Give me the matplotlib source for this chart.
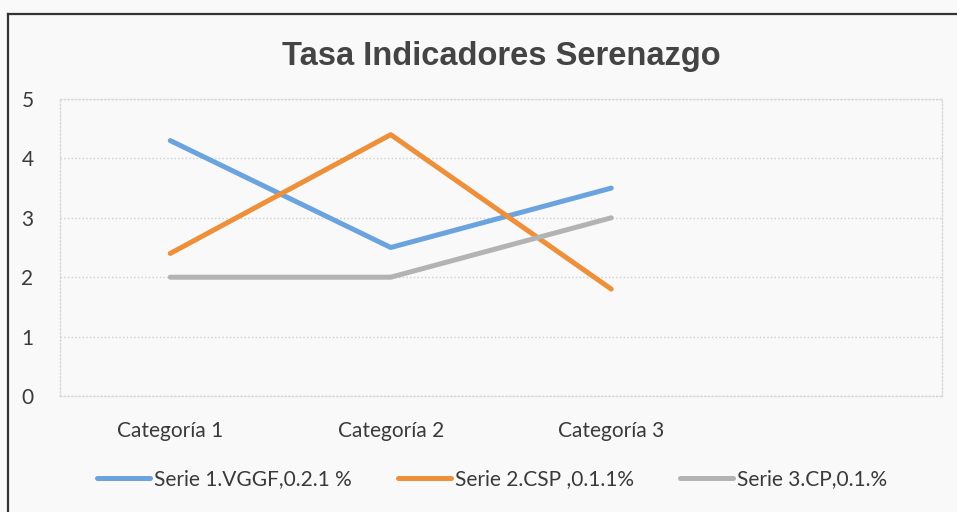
import matplotlib.pyplot as plt
from matplotlib.lines import Line2D

categories = ["Categoría 1", "Categoría 2", "Categoría 3", ""]
serie1 = [4.3, 2.5, 3.5]
serie2 = [2.4, 4.4, 1.8]
serie3 = [2.0, 2.0, 3.0]
labels = ["Serie 1.VGGF,0.2.1 %", "Serie 2.CSP ,0.1.1%", "Serie 3.CP,0.1.%"]
colors = ["#6aa3dd", "#ee8f3a", "#b3b3b3"]

W, H = 957, 512
fig = plt.figure(figsize=(W / 100, H / 100), dpi=100, facecolor="#f9f9f9")
ax = fig.add_axes([60 / W, 1 - 396 / H, 882 / W, 297 / H], facecolor="#f9f9f9")

x = range(len(serie1))
for vals, lab, col in zip([serie1, serie2, serie3], labels, colors):
    ax.plot(x, vals, color=col, lw=3.6, label=lab, solid_capstyle="round")

ax.set_xlim(-0.5, len(categories) - 0.5)
ax.set_ylim(0, 5)
ax.set_xticks(range(len(categories)))
ax.set_xticklabels(categories)
ax.set_yticks(range(6))
ax.tick_params(length=0, labelsize=15, labelcolor="#3a3a3a")
ax.tick_params(axis="x", pad=18)
ax.tick_params(axis="y", pad=19)
for lbl in ax.get_xticklabels() + ax.get_yticklabels():
    lbl.set_family(["Lato", "DejaVu Sans"])
ax.grid(axis="y", color="#cfcfcf", ls=":", lw=1)
for s in ax.spines.values():
    s.set_color("#d6d6d6")
    s.set_linestyle(":")
    s.set_linewidth(1)

fig.text(501 / W, 1 - 57 / H, "Tasa Indicadores Serenazgo", ha="center", va="center",
         fontsize=23.5, fontweight="bold", color="#444444",
         family=["Liberation Sans", "DejaVu Sans"])

leg = fig.legend(loc="center", bbox_to_anchor=(492 / W, 1 - 479 / H), ncol=3,
                 frameon=False, handlelength=2.55, handletextpad=0.2,
                 columnspacing=2.2, prop={"family": "Lato", "size": 15})
for t in leg.get_texts():
    t.set_color("#3a3a3a")

# outer chart frame
fig.add_artist(Line2D([8 / W, 8 / W], [0, 1 - 14 / H], color="#333333", lw=1.6))
fig.add_artist(Line2D([8 / W, 1], [1 - 14 / H, 1 - 14 / H], color="#333333", lw=1.6))

fig.savefig("out.png", dpi=100, facecolor=fig.get_facecolor())
